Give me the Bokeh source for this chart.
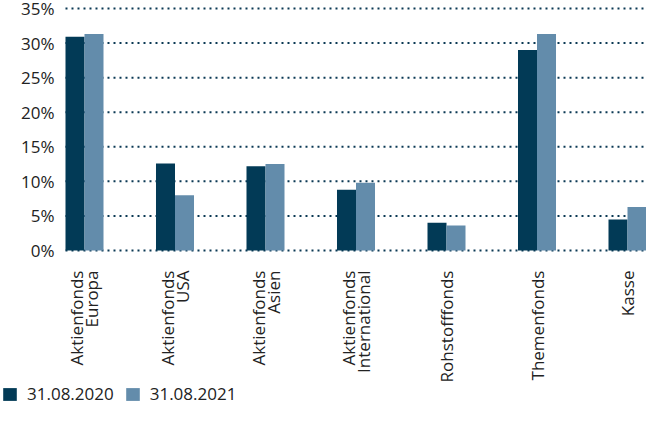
import math
from bokeh.plotting import figure
from bokeh.models import Range1d, Legend, LegendItem, ColumnDataSource
from bokeh.transform import dodge
from bokeh.core.properties import value
from bokeh.embed import file_html
from bokeh.resources import INLINE

categories = ["Aktienfonds\nEuropa", "Aktienfonds\nUSA", "Aktienfonds\nAsien",
              "Aktienfonds\nInternational", "Rohstofffonds", "Themenfonds", "Kasse"]
series_names = ["31.08.2020", "31.08.2021"]
v2020 = [30.9, 12.6, 12.2, 8.8, 4.0, 29.0, 4.5]
v2021 = [31.3, 8.0, 12.5, 9.8, 3.6, 31.3, 6.3]
y_ticks = [0, 5, 10, 15, 20, 25, 30, 35]
y_labels = ["0%", "5%", "10%", "15%", "20%", "25%", "30%", "35%"]

DARK = "#023A56"
LIGHT = "#638CAB"
TEXT = "#222222"
GRID = "#0B3954"
FONT = "Open Sans"
BAR_W = 0.21
LINE_GAP = 7.5  # half distance between the two lines of a label (px)

idx = list(range(len(categories)))
src = ColumnDataSource(dict(x=idx, v2020=v2020, v2021=v2021))

x_start, x_end = -0.9171, 6.2099
y_start, y_end = -22.418, 36.158

p = figure(frame_width=645, frame_height=405,
           x_range=Range1d(x_start, x_end), y_range=Range1d(y_start, y_end),
           output_backend="svg", toolbar_location=None,
           min_border_left=1, min_border_right=0, min_border_top=0,
           min_border_bottom=0)
p.outline_line_color = None
p.background_fill_color = None
p.border_fill_color = None
p.xaxis.visible = False
p.yaxis.visible = False
p.grid.visible = False

# dotted horizontal grid lines at the y ticks
grid_src = ColumnDataSource(dict(y=y_ticks,
                                 x0=[idx[0] - BAR_W] * len(y_ticks),
                                 x1=[x_end] * len(y_ticks)))
p.segment(x0="x0", x1="x1", y0="y", y1="y", source=grid_src,
          line_color=GRID, line_width=2, line_dash="2 4")

# y tick labels
ylab_src = ColumnDataSource(dict(y=y_ticks, text=y_labels,
                                 x=[idx[0] - BAR_W - 0.1215] * len(y_ticks)))
p.text(x="x", y="y", text="text", source=ylab_src, text_align="right",
       text_baseline="middle", text_font=value(FONT), text_font_size="17px",
       text_color=TEXT)

r1 = p.vbar(x=dodge("x", -BAR_W / 2, range=p.x_range), top="v2020", bottom=0,
            width=BAR_W, source=src, fill_color=DARK, line_color=None)
r2 = p.vbar(x=dodge("x", BAR_W / 2, range=p.x_range), top="v2021", bottom=0,
            width=BAR_W, source=src, fill_color=LIGHT, line_color=None)

# category labels (rotated, reading bottom to top), one glyph row per text line
lx, lt, lo = [], [], []
for i, c in zip(idx, categories):
    parts = c.split("\n")
    n = len(parts)
    for k, t in enumerate(parts):
        lx.append(i)
        lt.append(t)
        lo.append((k - (n - 1) / 2) * 2 * LINE_GAP)
lab_src = ColumnDataSource(dict(x=lx, text=lt, xo=lo))
p.text(x="x", y=-2.9, text="text", x_offset="xo", source=lab_src,
       angle=math.pi / 2, text_align="right", text_baseline="middle",
       text_font=value(FONT), text_font_size="17px", text_color=TEXT)

legend = Legend(items=[LegendItem(label=series_names[0], renderers=[r1]),
                       LegendItem(label=series_names[1], renderers=[r2])],
                orientation="horizontal", location=(0, 0),
                glyph_width=17, glyph_height=16, label_standoff=9, spacing=10,
                padding=0, margin=0, border_line_color=None,
                background_fill_alpha=0, label_text_font=FONT,
                label_text_font_size="17px", label_text_color=TEXT,
                label_height=16)
p.add_layout(legend, "center")

open("out.html", "w").write(file_html(p, INLINE))
